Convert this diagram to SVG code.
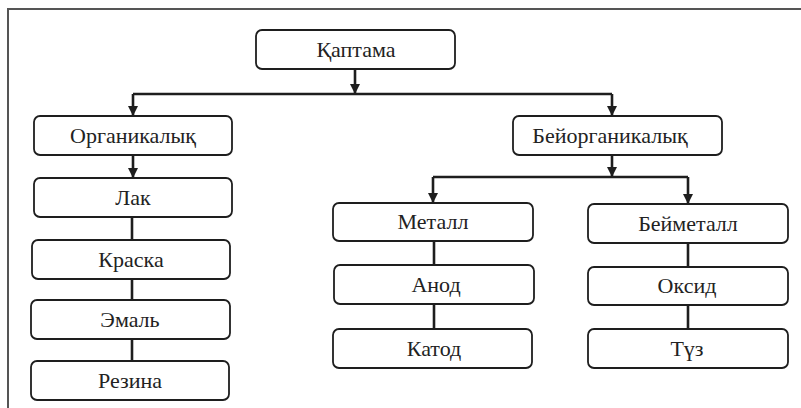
<svg xmlns="http://www.w3.org/2000/svg" width="801" height="408" viewBox="0 0 801 408">
<defs>
<marker id="ah" viewBox="0 0 10 10" refX="10" refY="5" markerWidth="10" markerHeight="10" markerUnits="userSpaceOnUse" orient="auto">
<path d="M0,0 L10,5 L0,10 z" fill="#1e1e1e"/>
</marker>
<style>
.box{fill:#fff;stroke:#1e1e1e;stroke-width:1.8}
.t{font-size:22px;fill:#222;text-anchor:middle}
.c{fill:none;stroke:#1e1e1e;stroke-width:2.6}
.a{marker-end:url(#ah)}
</style>
</defs>
<rect width="801" height="408" fill="#fff"/>
<path d="M8,408 V9 H801" fill="none" stroke="#555" stroke-width="2"/>
<g id="connectors">
<path class="c a" d="M355,69 V94"/>
<path class="c" d="M133,94 H612"/>
<path class="c a" d="M133,94 V116"/>
<path class="c a" d="M612,94 V116"/>
<path class="c a" d="M133,155 V178"/>
<path class="c" d="M132,217 V361"/>
<path class="c a" d="M612,155 V177"/>
<path class="c" d="M433,177 H688"/>
<path class="c a" d="M433,177 V203"/>
<path class="c a" d="M688,177 V204"/>
<path class="c" d="M434,241 V329"/>
<path class="c" d="M688,243 V329"/>
</g>
<g font-family="Liberation Serif, DejaVu Serif, serif">
<g id="n-kaptama"><rect class="box" x="256" y="30" width="199" height="39" rx="6"/><text class="t" x="356" y="57">Қаптама</text></g>
<g id="n-organikalyk"><rect class="box" x="34" y="116" width="198" height="39" rx="6"/><text class="t" x="133" y="143">Органикалық</text></g>
<g id="n-beiorganikalyk"><rect class="box" x="513" y="116" width="209" height="39" rx="6"/><text class="t" x="610" y="143">Бейорганикалық</text></g>
<g id="n-lak"><rect class="box" x="34" y="178" width="198" height="39" rx="6"/><text class="t" x="133" y="205">Лак</text></g>
<g id="n-kraska"><rect class="box" x="32" y="240" width="198" height="39" rx="6"/><text class="t" x="131" y="267">Краска</text></g>
<g id="n-emal"><rect class="box" x="31" y="300" width="199" height="39" rx="6"/><text class="t" x="130" y="327">Эмаль</text></g>
<g id="n-rezina"><rect class="box" x="31" y="361" width="198" height="39" rx="6"/><text class="t" x="130" y="388">Резина</text></g>
<g id="n-metall"><rect class="box" x="333" y="203" width="200" height="38" rx="6"/><text class="t" x="433" y="229">Металл</text></g>
<g id="n-anod"><rect class="box" x="334" y="265" width="200" height="39" rx="6"/><text class="t" x="436" y="292">Анод</text></g>
<g id="n-katod"><rect class="box" x="333" y="329" width="199" height="39" rx="6"/><text class="t" x="434" y="356">Катод</text></g>
<g id="n-beimetall"><rect class="box" x="588" y="204" width="200" height="39" rx="6"/><text class="t" x="688" y="231">Бейметалл</text></g>
<g id="n-oksid"><rect class="box" x="588" y="267" width="200" height="38" rx="6"/><text class="t" x="687" y="293">Оксид</text></g>
<g id="n-tuz"><rect class="box" x="588" y="329" width="200" height="39" rx="6"/><text class="t" x="687" y="356">Түз</text></g>
</g>
</svg>
